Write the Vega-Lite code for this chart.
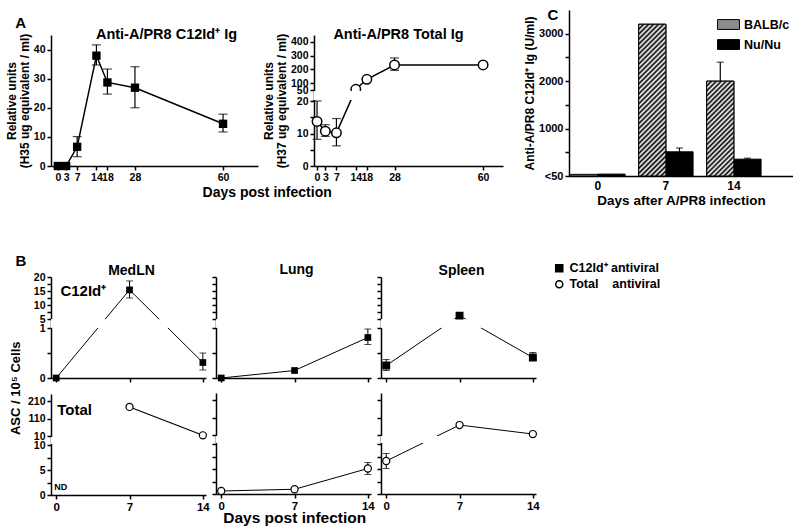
{
  "$schema": "https://vega.github.io/schema/vega-lite/v6.json",
  "padding": {"left": 5, "top": 8, "right": 0, "bottom": 0},
  "config": {
    "font": "Liberation Sans",
    "view": {"stroke": null},
    "mark": {"color": "black"},
    "axis": {"grid": false, "domainColor": "black", "tickColor": "black", "labelColor": "black", "titleColor": "black", "labelFontSize": 10.5, "labelFontWeight": "bold", "titleFontSize": 12, "titleFontWeight": "bold", "labelOverlap": false, "labelFlush": false, "domainWidth": 1.5, "tickWidth": 1.5, "tickSize": 4, "labelPadding": 2, "titlePadding": 2},
    "title": {"fontSize": 15, "fontWeight": "bold", "color": "black", "font": "Liberation Sans"},
    "legend": {"labelFontSize": 12, "labelFontWeight": "bold", "labelColor": "black", "symbolStrokeColor": "black"}
  },
  "datasets": {
    "a": [
      {"panel": "C12", "day": 0, "value": 0},
      {"panel": "C12", "day": 3, "value": 0},
      {"panel": "C12", "day": 7, "value": 6.6, "lo": 3.2, "hi": 10.1},
      {"panel": "C12", "day": 14, "value": 37.9, "lo": 34.7, "hi": 41.6},
      {"panel": "C12", "day": 18, "value": 28.7, "lo": 24.7, "hi": 33.3},
      {"panel": "C12", "day": 28, "value": 26.9, "lo": 20, "hi": 34.1},
      {"panel": "C12", "day": 60, "value": 14.5, "lo": 11.7, "hi": 17.8},
      {"panel": "Total", "day": 0, "value": 13.7, "lo": 8.2, "hi": 20},
      {"panel": "Total", "day": 3, "value": 10.7, "lo": 9.1, "hi": 12.7},
      {"panel": "Total", "day": 7, "value": 10.2, "lo": 6.2, "hi": 14.6},
      {"panel": "Total", "day": 14, "value": 55},
      {"panel": "Total", "day": 18, "value": 128},
      {"panel": "Total", "day": 28, "value": 232, "lo": 193, "hi": 283},
      {"panel": "Total", "day": 60, "value": 232}
    ],
    "c": [
      {"day": "0", "strain": "BALB/c", "value": 35},
      {"day": "0", "strain": "Nu/Nu", "value": 40},
      {"day": "7", "strain": "BALB/c", "value": 3200},
      {"day": "7", "strain": "Nu/Nu", "value": 510, "hi": 590},
      {"day": "14", "strain": "BALB/c", "value": 2000, "hi": 2400},
      {"day": "14", "strain": "Nu/Nu", "value": 355, "hi": 375}
    ],
    "b": [
      {"tissue": "MedLN", "row": "C12", "series": "C12Id⁺ antiviral", "day": 0, "value": 0},
      {"tissue": "MedLN", "row": "C12", "series": "C12Id⁺ antiviral", "day": 7, "value": 15.4, "lo": 12.5, "hi": 18.6},
      {"tissue": "MedLN", "row": "C12", "series": "C12Id⁺ antiviral", "day": 14, "value": 0.31, "lo": 0.16, "hi": 0.5},
      {"tissue": "Lung", "row": "C12", "series": "C12Id⁺ antiviral", "day": 0, "value": 0},
      {"tissue": "Lung", "row": "C12", "series": "C12Id⁺ antiviral", "day": 7, "value": 0.15},
      {"tissue": "Lung", "row": "C12", "series": "C12Id⁺ antiviral", "day": 14, "value": 0.81, "lo": 0.67, "hi": 0.98},
      {"tissue": "Spleen", "row": "C12", "series": "C12Id⁺ antiviral", "day": 0, "value": 0.25, "lo": 0.15, "hi": 0.37},
      {"tissue": "Spleen", "row": "C12", "series": "C12Id⁺ antiviral", "day": 7, "value": 6.2},
      {"tissue": "Spleen", "row": "C12", "series": "C12Id⁺ antiviral", "day": 14, "value": 0.41, "lo": 0.36, "hi": 0.51},
      {"tissue": "MedLN", "row": "Total", "series": "Total antiviral", "day": 7, "value": 176, "lo": 168, "hi": 186},
      {"tissue": "MedLN", "row": "Total", "series": "Total antiviral", "day": 14, "value": 14},
      {"tissue": "Lung", "row": "Total", "series": "Total antiviral", "day": 0, "value": 0.6},
      {"tissue": "Lung", "row": "Total", "series": "Total antiviral", "day": 7, "value": 0.95},
      {"tissue": "Lung", "row": "Total", "series": "Total antiviral", "day": 14, "value": 5.1, "lo": 3.9, "hi": 6.3},
      {"tissue": "Spleen", "row": "Total", "series": "Total antiviral", "day": 0, "value": 6.6, "lo": 5.1, "hi": 8.1},
      {"tissue": "Spleen", "row": "Total", "series": "Total antiviral", "day": 7, "value": 67},
      {"tissue": "Spleen", "row": "Total", "series": "Total antiviral", "day": 14, "value": 15.5}
    ]
  },
  "spacing": 47,
  "resolve": {"scale": {"fill": "independent", "shape": "independent", "stroke": "independent"}, "legend": {"fill": "independent", "shape": "independent", "stroke": "independent"}},
  "vconcat": [
    {
      "spacing": 20,
      "resolve": {"scale": {"fill": "independent", "shape": "independent", "stroke": "independent"}, "legend": {"fill": "independent", "shape": "independent", "stroke": "independent"}},
      "hconcat": [
        {
          "title": {"text": "A", "anchor": "start", "fontSize": 15, "offset": -21, "dx": 10},
          "vconcat": [
            {
              "title": {"text": "Days post infection", "orient": "bottom", "anchor": "middle", "fontSize": 14, "offset": 3, "dx": 13},
              "spacing": 4,
              "hconcat": [
                {
                  "width": 207, "height": 156,
                  "title": {"text": "Anti-A/PR8 C12Id⁺ Ig", "frame": "group", "offset": -32, "dx": 12, "fontSize": 14.5},
                  "data": {"name": "a"},
                  "transform": [{"filter": "datum.panel=='C12'"}],
                  "resolve": {"axis": {"y": "independent"}},
                  "encoding": {"x": {"field": "day", "type": "quantitative", "scale": {"domain": [-2.5, 72.7], "nice": false, "zero": false}, "axis": {"values": [0, 3, 7, 14, 18, 28, 60], "format": "d", "title": null, "labelOverlap": false}}},
                  "layer": [
                    {"mark": {"type": "line", "strokeWidth": 1.5}, "encoding": {"y": {"field": "value", "type": "quantitative", "title": ["Relative units", "(H35 ug equivalent / ml)"], "scale": {"domain": [0, 45], "range": [156, 25], "nice": false}, "axis": {"values": [0, 10, 20, 30, 40], "format": "d", "labelOverlap": false, "titleLineHeight": 13}}}},
                    {"transform": [{"filter": "isValid(datum.lo)"}], "mark": {"type": "errorbar", "ticks": true, "size": 9, "thickness": 1.2}, "encoding": {"y": {"field": "lo", "type": "quantitative", "axis": null}, "y2": {"field": "hi"}}},
                    {"mark": {"type": "square", "size": 70, "opacity": 1}, "encoding": {"y": {"field": "value", "type": "quantitative", "axis": null}}}
                  ]
                },
                {
                  "width": 189, "height": 156,
                  "title": {"text": "Anti-A/PR8 Total Ig", "frame": "group", "offset": -32, "dx": -10, "fontSize": 14.5},
                  "data": {"name": "a"},
                  "transform": [{"filter": "datum.panel=='Total'"}],
                  "resolve": {"axis": {"y": "independent"}},
                  "encoding": {"x": {"field": "day", "type": "quantitative", "scale": {"domain": [-1.1, 67.2], "nice": false, "zero": false}, "axis": {"values": [0, 3, 7, 14, 18, 28, 60], "format": "d", "title": null, "labelOverlap": false}}},
                  "layer": [
                    {"mark": {"type": "line", "strokeWidth": 1.5}, "encoding": {"y": {"field": "value", "type": "quantitative", "title": ["Relative units", "(H37 ug equivalent / ml)"], "scale": {"domain": [0, 20, 50, 450], "range": [156, 91, 80, 25], "nice": false, "zero": false}, "axis": {"values": [0, 5, 10, 15, 20, 50, 100, 200, 300, 400], "labelOverlap": false, "labelExpr": "datum.value==5||datum.value==15 ? '' : datum.label", "titleLineHeight": 13}}}},
                    {"transform": [{"filter": "isValid(datum.lo)"}], "mark": {"type": "errorbar", "ticks": true, "size": 9, "thickness": 1.2}, "encoding": {"y": {"field": "lo", "type": "quantitative", "axis": null}, "y2": {"field": "hi"}}},
                    {"mark": {"type": "point", "shape": "circle", "filled": true, "fill": "white", "stroke": "black", "strokeWidth": 1.5, "size": 90, "opacity": 1}, "encoding": {"y": {"field": "value", "type": "quantitative", "axis": null}}},
                    {"mark": {"type": "rect", "color": "white"}, "encoding": {"x": {"datum": -1.1}, "x2": {"datum": 67.2}, "y": {"datum": 22.5, "axis": null}, "y2": {"datum": 47.5}}}
                  ]
                }
              ]
            }
          ]
        },
        {
          "title": {"text": "C", "anchor": "start", "fontSize": 15, "offset": -13, "dx": 24},
          "width": 224, "height": 166,
          "data": {"name": "c"},
          "resolve": {"axis": {"y": "independent"}},
          "encoding": {
            "x": {"field": "day", "type": "nominal", "sort": ["0", "7", "14"], "scale": {"paddingInner": 0.2, "paddingOuter": 0.247, "align": 0.05}, "axis": {"title": "Days after A/PR8 infection", "labelAngle": 0, "ticks": false, "labelFontSize": 12, "titleFontSize": 13.5, "labelPadding": 4, "titlePadding": 2}},
            "xOffset": {"field": "strain", "type": "nominal", "sort": ["BALB/c", "Nu/Nu"], "scale": {"paddingInner": 0, "paddingOuter": 0}}
          },
          "layer": [
            {"mark": {"type": "bar", "stroke": "black", "strokeWidth": 1}, "encoding": {
              "y": {"field": "value", "type": "quantitative", "scale": {"domain": [0, 3500], "nice": false}, "axis": {"orient": "left", "values": [0, 500, 1000, 1500, 2000, 2500, 3000], "labelOverlap": false, "labelFontSize": 11, "format": "d", "labelExpr": "datum.value==0 ? '<50' : (datum.value%1000==0 ? datum.label : '')", "title": "Anti-A/PR8 C12Id⁺ Ig (U/ml)", "titleFontSize": 12}},
              "fill": {"field": "strain", "type": "nominal", "scale": {"domain": ["BALB/c", "Nu/Nu"], "range": ["#8c8c8c", "black"]}, "legend": {"title": null, "orient": "top-right", "offset": 3, "symbolType": "M-1,-0.45H1V0.45H-1Z", "symbolSize": 480, "rowPadding": 1, "labelFontSize": 12.5, "padding": 0, "encode": {"symbols": {"update": {"stroke": {"value": "black"}, "strokeWidth": {"value": 1}, "fill": [{"test": "datum.value === 'BALB/c'", "value": {"gradient": "linear", "x1": 0, "y1": 0, "x2": 1.205, "y2": 0.548, "stops": [{"offset": 0, "color": "#000"}, {"offset": 0.0714, "color": "#fff"}, {"offset": 0.1429, "color": "#000"}, {"offset": 0.2143, "color": "#fff"}, {"offset": 0.2857, "color": "#000"}, {"offset": 0.3571, "color": "#fff"}, {"offset": 0.4286, "color": "#000"}, {"offset": 0.5, "color": "#fff"}, {"offset": 0.5714, "color": "#000"}, {"offset": 0.6429, "color": "#fff"}, {"offset": 0.7143, "color": "#000"}, {"offset": 0.7857, "color": "#fff"}, {"offset": 0.8571, "color": "#000"}, {"offset": 0.9286, "color": "#fff"}, {"offset": 1, "color": "#000"}]}}, {"value": "black"}]}}}}}
            }},
            {"transform": [{"filter": "datum.strain=='BALB/c' && datum.day != '0'"}], "mark": {"type": "bar", "stroke": "black", "strokeWidth": 1}, "encoding": {
              "y": {"field": "value", "type": "quantitative", "axis": null},
              "fill": {"condition": {"test": "datum.day == '7'", "value": {"gradient": "linear", "x1": 0, "y1": 0, "x2": 0.2047, "y2": 1.1425, "stops": [
                {"offset": 0, "color": "#000"}, {"offset": 0.0139, "color": "#fff"}, {"offset": 0.0278, "color": "#000"}, {"offset": 0.0417, "color": "#fff"}, {"offset": 0.0556, "color": "#000"}, {"offset": 0.0694, "color": "#fff"}, {"offset": 0.0833, "color": "#000"}, {"offset": 0.0972, "color": "#fff"}, {"offset": 0.1111, "color": "#000"}, {"offset": 0.125, "color": "#fff"}, {"offset": 0.1389, "color": "#000"}, {"offset": 0.1528, "color": "#fff"}, {"offset": 0.1667, "color": "#000"}, {"offset": 0.1806, "color": "#fff"}, {"offset": 0.1944, "color": "#000"}, {"offset": 0.2083, "color": "#fff"}, {"offset": 0.2222, "color": "#000"}, {"offset": 0.2361, "color": "#fff"}, {"offset": 0.25, "color": "#000"}, {"offset": 0.2639, "color": "#fff"}, {"offset": 0.2778, "color": "#000"}, {"offset": 0.2917, "color": "#fff"}, {"offset": 0.3056, "color": "#000"}, {"offset": 0.3194, "color": "#fff"}, {"offset": 0.3333, "color": "#000"}, {"offset": 0.3472, "color": "#fff"}, {"offset": 0.3611, "color": "#000"}, {"offset": 0.375, "color": "#fff"}, {"offset": 0.3889, "color": "#000"}, {"offset": 0.4028, "color": "#fff"}, {"offset": 0.4167, "color": "#000"}, {"offset": 0.4306, "color": "#fff"}, {"offset": 0.4444, "color": "#000"}, {"offset": 0.4583, "color": "#fff"}, {"offset": 0.4722, "color": "#000"}, {"offset": 0.4861, "color": "#fff"}, {"offset": 0.5, "color": "#000"}, {"offset": 0.5139, "color": "#fff"}, {"offset": 0.5278, "color": "#000"}, {"offset": 0.5417, "color": "#fff"}, {"offset": 0.5556, "color": "#000"}, {"offset": 0.5694, "color": "#fff"}, {"offset": 0.5833, "color": "#000"}, {"offset": 0.5972, "color": "#fff"}, {"offset": 0.6111, "color": "#000"}, {"offset": 0.625, "color": "#fff"}, {"offset": 0.6389, "color": "#000"}, {"offset": 0.6528, "color": "#fff"}, {"offset": 0.6667, "color": "#000"}, {"offset": 0.6806, "color": "#fff"}, {"offset": 0.6944, "color": "#000"}, {"offset": 0.7083, "color": "#fff"}, {"offset": 0.7222, "color": "#000"}, {"offset": 0.7361, "color": "#fff"}, {"offset": 0.75, "color": "#000"}, {"offset": 0.7639, "color": "#fff"}, {"offset": 0.7778, "color": "#000"}, {"offset": 0.7917, "color": "#fff"}, {"offset": 0.8056, "color": "#000"}, {"offset": 0.8194, "color": "#fff"}, {"offset": 0.8333, "color": "#000"}, {"offset": 0.8472, "color": "#fff"}, {"offset": 0.8611, "color": "#000"}, {"offset": 0.875, "color": "#fff"}, {"offset": 0.8889, "color": "#000"}, {"offset": 0.9028, "color": "#fff"}, {"offset": 0.9167, "color": "#000"}, {"offset": 0.9306, "color": "#fff"}, {"offset": 0.9444, "color": "#000"}, {"offset": 0.9583, "color": "#fff"}, {"offset": 0.9722, "color": "#000"}, {"offset": 0.9861, "color": "#fff"}, {"offset": 1, "color": "#000"}]}},
                "value": {"gradient": "linear", "x1": 0, "y1": 0, "x2": 0.341, "y2": 1.189, "stops": [
                {"offset": 0, "color": "#000"}, {"offset": 0.02, "color": "#fff"}, {"offset": 0.04, "color": "#000"}, {"offset": 0.06, "color": "#fff"}, {"offset": 0.08, "color": "#000"}, {"offset": 0.1, "color": "#fff"}, {"offset": 0.12, "color": "#000"}, {"offset": 0.14, "color": "#fff"}, {"offset": 0.16, "color": "#000"}, {"offset": 0.18, "color": "#fff"}, {"offset": 0.2, "color": "#000"}, {"offset": 0.22, "color": "#fff"}, {"offset": 0.24, "color": "#000"}, {"offset": 0.26, "color": "#fff"}, {"offset": 0.28, "color": "#000"}, {"offset": 0.3, "color": "#fff"}, {"offset": 0.32, "color": "#000"}, {"offset": 0.34, "color": "#fff"}, {"offset": 0.36, "color": "#000"}, {"offset": 0.38, "color": "#fff"}, {"offset": 0.4, "color": "#000"}, {"offset": 0.42, "color": "#fff"}, {"offset": 0.44, "color": "#000"}, {"offset": 0.46, "color": "#fff"}, {"offset": 0.48, "color": "#000"}, {"offset": 0.5, "color": "#fff"}, {"offset": 0.52, "color": "#000"}, {"offset": 0.54, "color": "#fff"}, {"offset": 0.56, "color": "#000"}, {"offset": 0.58, "color": "#fff"}, {"offset": 0.6, "color": "#000"}, {"offset": 0.62, "color": "#fff"}, {"offset": 0.64, "color": "#000"}, {"offset": 0.66, "color": "#fff"}, {"offset": 0.68, "color": "#000"}, {"offset": 0.7, "color": "#fff"}, {"offset": 0.72, "color": "#000"}, {"offset": 0.74, "color": "#fff"}, {"offset": 0.76, "color": "#000"}, {"offset": 0.78, "color": "#fff"}, {"offset": 0.8, "color": "#000"}, {"offset": 0.82, "color": "#fff"}, {"offset": 0.84, "color": "#000"}, {"offset": 0.86, "color": "#fff"}, {"offset": 0.88, "color": "#000"}, {"offset": 0.9, "color": "#fff"}, {"offset": 0.92, "color": "#000"}, {"offset": 0.94, "color": "#fff"}, {"offset": 0.96, "color": "#000"}, {"offset": 0.98, "color": "#fff"}, {"offset": 1, "color": "#000"}]}}
            }},
            {"transform": [{"filter": "isValid(datum.hi)"}], "mark": {"type": "rule", "strokeWidth": 1.2}, "encoding": {"y": {"field": "value", "type": "quantitative", "axis": null}, "y2": {"field": "hi"}}},
            {"transform": [{"filter": "isValid(datum.hi)"}], "mark": {"type": "tick", "orient": "horizontal", "size": 7, "thickness": 1.2}, "encoding": {"y": {"field": "hi", "type": "quantitative", "axis": null}}},
            {"mark": {"type": "bar", "opacity": 0}, "encoding": {"y": {"field": "value", "type": "quantitative", "axis": {"orient": "right", "labels": false, "ticks": false, "title": null, "domainWidth": 1}}}}
          ]
        }
      ]
    },
    {
      "title": {"text": "B", "anchor": "start", "fontSize": 15, "offset": -7, "dx": 5},
      "resolve": {"scale": {"fill": "independent", "shape": "independent", "stroke": "independent"}, "legend": {"fill": "independent", "shape": "independent", "stroke": "independent"}},
      "vconcat": [
        {
          "title": {"text": "Days post infection", "orient": "bottom", "anchor": "middle", "fontSize": 15.5, "offset": -2, "dx": -41},
          "spacing": 1,
          "resolve": {"scale": {"fill": "independent", "shape": "independent", "stroke": "independent"}, "legend": {"fill": "independent", "shape": "independent", "stroke": "independent"}},
          "hconcat": [
            {
              "title": {"text": "ASC / 10⁵ Cells", "orient": "left", "anchor": "middle", "fontSize": 13, "offset": 4},
              "spacing": 10,
              "vconcat": [
                {
                  "width": 155, "height": 101,
                  "title": {"text": "MedLN", "frame": "group", "dx": 3, "offset": -6, "fontSize": 14},
                  "data": {"name": "b"},
                  "transform": [{"filter": "datum.tissue=='MedLN' && datum.row=='C12'"}],
                  "resolve": {"axis": {"y": "independent"}},
                  "encoding": {"x": {"field": "day", "type": "quantitative", "title": null, "scale": {"domain": [-0.5, 14.3], "nice": false, "zero": false}, "axis": {"values": [0, 7, 14], "format": "d", "labels": false}}},
                  "layer": [
                    {"mark": {"type": "line", "strokeWidth": 1}, "encoding": {"y": {"field": "value", "type": "quantitative", "title": null, "scale": {"domain": [0, 1, 5, 20], "range": [101, 51, 42, 0], "nice": false, "zero": false}, "axis": {"values": [0, 0.5, 1, 5, 7.5, 10, 12.5, 15, 17.5, 20], "labelOverlap": false, "labelExpr": "indexof([0,1,5,10,15,20], datum.value) >= 0 ? datum.label : ''"}}}},
                    {"transform": [{"filter": "isValid(datum.lo)"}], "mark": {"type": "errorbar", "ticks": true, "size": 7, "thickness": 1}, "encoding": {"y": {"field": "lo", "type": "quantitative", "axis": null}, "y2": {"field": "hi"}}},
                    {"mark": {"type": "rect", "color": "white"}, "encoding": {"x": {"datum": -0.5}, "x2": {"datum": 14.3}, "y": {"datum": 1.2, "axis": null}, "y2": {"datum": 4.8}}},
                    {"mark": {"type": "square", "size": 45, "opacity": 1}, "encoding": {"y": {"field": "value", "type": "quantitative", "axis": null}}},
                    {"transform": [{"filter": "datum.day == 7"}], "mark": {"type": "text", "text": "C12Id⁺", "align": "left", "baseline": "middle", "fontSize": 15, "fontWeight": "bold"}, "encoding": {"x": {"datum": 0.4}, "y": {"datum": 15, "axis": null}}}
                  ]
                },
                {
                  "width": 155, "height": 101,
                  "data": {"name": "b"},
                  "transform": [{"filter": "datum.tissue=='MedLN' && datum.row=='Total'"}],
                  "resolve": {"axis": {"y": "independent"}},
                  "encoding": {"x": {"field": "day", "type": "quantitative", "title": null, "scale": {"domain": [-0.5, 14.3], "nice": false, "zero": false}, "axis": {"values": [0, 7, 14], "format": "d", "labelFontSize": 11.5, "labelOverlap": false}}},
                  "layer": [
                    {"mark": {"type": "line", "strokeWidth": 1.2}, "encoding": {"y": {"field": "value", "type": "quantitative", "title": null, "scale": {"domain": [0, 10, 10.001, 250], "range": [101, 51, 42, 0], "nice": false, "zero": false}, "axis": {"values": [0, 2.5, 5, 7.5, 10, 10.001, 110, 210], "labelOverlap": false, "labelExpr": "datum.value==10.001 ? '10' : (indexof([0,5,10,110,210], datum.value) >= 0 ? datum.label : '')"}}}},
                    {"transform": [{"filter": "isValid(datum.lo)"}], "mark": {"type": "errorbar", "ticks": true, "size": 7, "thickness": 1}, "encoding": {"y": {"field": "lo", "type": "quantitative", "axis": null}, "y2": {"field": "hi"}}},
                    {"mark": {"type": "rect", "color": "white"}, "encoding": {"x": {"datum": -0.5}, "x2": {"datum": 14.3}, "y": {"datum": 10.00012, "axis": null}, "y2": {"datum": 10.00088}}},
                    {"mark": {"type": "point", "shape": "circle", "filled": true, "fill": "white", "stroke": "black", "strokeWidth": 1.2, "size": 50, "opacity": 1}, "encoding": {"y": {"field": "value", "type": "quantitative", "axis": null}}},
                    {"transform": [{"filter": "datum.day == 7"}], "mark": {"type": "text", "text": "Total", "align": "left", "baseline": "middle", "fontSize": 15, "fontWeight": "bold"}, "encoding": {"x": {"datum": 0.1}, "y": {"datum": 158, "axis": null}}},
                    {"transform": [{"filter": "datum.day == 7"}], "mark": {"type": "text", "text": "ND", "align": "left", "baseline": "middle", "fontSize": 9, "fontWeight": "bold"}, "encoding": {"x": {"datum": -0.2}, "y": {"datum": 1.6, "axis": null}}}
                  ]
                }
              ]
            },
            {
              "spacing": 10,
              "vconcat": [
                {
                  "width": 155, "height": 101,
                  "title": {"text": "Lung", "frame": "group", "dx": 3, "offset": -1, "fontSize": 14},
                  "data": {"name": "b"},
                  "transform": [{"filter": "datum.tissue=='Lung' && datum.row=='C12'"}],
                  "resolve": {"axis": {"y": "independent"}},
                  "encoding": {"x": {"field": "day", "type": "quantitative", "title": null, "scale": {"domain": [-0.5, 14.3], "nice": false, "zero": false}, "axis": {"values": [0, 7, 14], "format": "d", "labels": false}}},
                  "layer": [
                    {"mark": {"type": "line", "strokeWidth": 1}, "encoding": {"y": {"field": "value", "type": "quantitative", "title": null, "scale": {"domain": [0, 1, 5, 20], "range": [101, 51, 42, 0], "nice": false, "zero": false}, "axis": {"values": [0, 0.5, 1, 5, 7.5, 10, 12.5, 15, 17.5, 20], "labels": false}}}},
                    {"transform": [{"filter": "isValid(datum.lo)"}], "mark": {"type": "errorbar", "ticks": true, "size": 7, "thickness": 1}, "encoding": {"y": {"field": "lo", "type": "quantitative", "axis": null}, "y2": {"field": "hi"}}},
                    {"mark": {"type": "rect", "color": "white"}, "encoding": {"x": {"datum": -0.5}, "x2": {"datum": 14.3}, "y": {"datum": 1.2, "axis": null}, "y2": {"datum": 4.8}}},
                    {"mark": {"type": "square", "size": 45, "opacity": 1}, "encoding": {"y": {"field": "value", "type": "quantitative", "axis": null}}}
                  ]
                },
                {
                  "width": 155, "height": 101,
                  "data": {"name": "b"},
                  "transform": [{"filter": "datum.tissue=='Lung' && datum.row=='Total'"}],
                  "resolve": {"axis": {"y": "independent"}},
                  "encoding": {"x": {"field": "day", "type": "quantitative", "title": null, "scale": {"domain": [-0.5, 14.3], "nice": false, "zero": false}, "axis": {"values": [0, 7, 14], "format": "d", "labelFontSize": 11.5, "labelOverlap": false}}},
                  "layer": [
                    {"mark": {"type": "line", "strokeWidth": 1}, "encoding": {"y": {"field": "value", "type": "quantitative", "title": null, "scale": {"domain": [0, 10, 10.001, 250], "range": [101, 51, 42, 0], "nice": false, "zero": false}, "axis": {"values": [0, 2.5, 5, 7.5, 10, 10.001, 110, 210], "labels": false}}}},
                    {"transform": [{"filter": "isValid(datum.lo)"}], "mark": {"type": "errorbar", "ticks": true, "size": 7, "thickness": 1}, "encoding": {"y": {"field": "lo", "type": "quantitative", "axis": null}, "y2": {"field": "hi"}}},
                    {"mark": {"type": "rect", "color": "white"}, "encoding": {"x": {"datum": -0.5}, "x2": {"datum": 14.3}, "y": {"datum": 10.00012, "axis": null}, "y2": {"datum": 10.00088}}},
                    {"mark": {"type": "point", "shape": "circle", "filled": true, "fill": "white", "stroke": "black", "strokeWidth": 1.2, "size": 50, "opacity": 1}, "encoding": {"y": {"field": "value", "type": "quantitative", "axis": null}}}
                  ]
                }
              ]
            },
            {
              "spacing": 10,
              "resolve": {"scale": {"fill": "independent", "shape": "independent", "stroke": "independent"}, "legend": {"fill": "independent", "shape": "independent", "stroke": "independent"}},
              "vconcat": [
                {
                  "width": 155, "height": 101,
                  "title": {"text": "Spleen", "frame": "group", "dx": 3, "offset": -16, "fontSize": 14},
                  "data": {"name": "b"},
                  "transform": [{"filter": "datum.tissue=='Spleen' && datum.row=='C12'"}],
                  "resolve": {"axis": {"y": "independent"}},
                  "encoding": {"x": {"field": "day", "type": "quantitative", "title": null, "scale": {"domain": [-0.5, 14.3], "nice": false, "zero": false}, "axis": {"values": [0, 7, 14], "format": "d", "labels": false}}},
                  "layer": [
                    {"mark": {"type": "line", "strokeWidth": 1}, "encoding": {"y": {"field": "value", "type": "quantitative", "title": null, "scale": {"domain": [0, 1, 5, 20], "range": [101, 51, 42, 0], "nice": false, "zero": false}, "axis": {"values": [0, 0.5, 1, 5, 7.5, 10, 12.5, 15, 17.5, 20], "labels": false}}}},
                    {"transform": [{"filter": "isValid(datum.lo)"}], "mark": {"type": "errorbar", "ticks": true, "size": 7, "thickness": 1}, "encoding": {"y": {"field": "lo", "type": "quantitative", "axis": null}, "y2": {"field": "hi"}}},
                    {"mark": {"type": "rect", "color": "white"}, "encoding": {"x": {"datum": -0.5}, "x2": {"datum": 14.3}, "y": {"datum": 1.2, "axis": null}, "y2": {"datum": 4.8}}},
                    {"mark": {"type": "point", "filled": false, "strokeWidth": 1.2, "size": 45, "opacity": 1}, "encoding": {
                      "y": {"field": "value", "type": "quantitative", "axis": null},
                      "shape": {"field": "series", "type": "nominal", "scale": {"domain": ["C12Id⁺ antiviral", "Total antiviral"], "range": ["square", "circle"]}, "legend": {"title": null, "orient": "none", "legendX": 172, "legendY": -15, "labelFontSize": 12.5, "symbolSize": 50, "rowPadding": 2, "labelExpr": "datum.label == 'Total antiviral' ? 'Total\u00a0\u00a0\u00a0\u00a0antiviral' : datum.label"}},
                      "fill": {"field": "series", "type": "nominal", "scale": {"domain": ["C12Id⁺ antiviral", "Total antiviral"], "range": ["black", "white"]}, "legend": {"title": null, "orient": "none", "legendX": 172, "legendY": -15, "labelFontSize": 12.5, "symbolSize": 50, "rowPadding": 2, "labelExpr": "datum.label == 'Total antiviral' ? 'Total\u00a0\u00a0\u00a0\u00a0antiviral' : datum.label"}},
                      "stroke": {"field": "series", "type": "nominal", "scale": {"domain": ["C12Id⁺ antiviral", "Total antiviral"], "range": ["black", "black"]}, "legend": {"title": null, "orient": "none", "legendX": 172, "legendY": -15, "labelFontSize": 12.5, "symbolSize": 50, "rowPadding": 2, "labelExpr": "datum.label == 'Total antiviral' ? 'Total\u00a0\u00a0\u00a0\u00a0antiviral' : datum.label"}}
                    }}
                  ]
                },
                {
                  "width": 155, "height": 101,
                  "data": {"name": "b"},
                  "transform": [{"filter": "datum.tissue=='Spleen' && datum.row=='Total'"}],
                  "resolve": {"axis": {"y": "independent"}},
                  "encoding": {"x": {"field": "day", "type": "quantitative", "title": null, "scale": {"domain": [-0.5, 14.3], "nice": false, "zero": false}, "axis": {"values": [0, 7, 14], "format": "d", "labelFontSize": 11.5, "labelOverlap": false}}},
                  "layer": [
                    {"mark": {"type": "line", "strokeWidth": 1}, "encoding": {"y": {"field": "value", "type": "quantitative", "title": null, "scale": {"domain": [0, 10, 10.001, 250], "range": [101, 51, 42, 0], "nice": false, "zero": false}, "axis": {"values": [0, 2.5, 5, 7.5, 10, 10.001, 110, 210], "labels": false}}}},
                    {"transform": [{"filter": "isValid(datum.lo)"}], "mark": {"type": "errorbar", "ticks": true, "size": 7, "thickness": 1}, "encoding": {"y": {"field": "lo", "type": "quantitative", "axis": null}, "y2": {"field": "hi"}}},
                    {"mark": {"type": "rect", "color": "white"}, "encoding": {"x": {"datum": -0.5}, "x2": {"datum": 14.3}, "y": {"datum": 10.00012, "axis": null}, "y2": {"datum": 10.00088}}},
                    {"mark": {"type": "point", "shape": "circle", "filled": true, "fill": "white", "stroke": "black", "strokeWidth": 1.2, "size": 50, "opacity": 1}, "encoding": {"y": {"field": "value", "type": "quantitative", "axis": null}}}
                  ]
                }
              ]
            }
          ]
        }
      ]
    }
  ]
}
